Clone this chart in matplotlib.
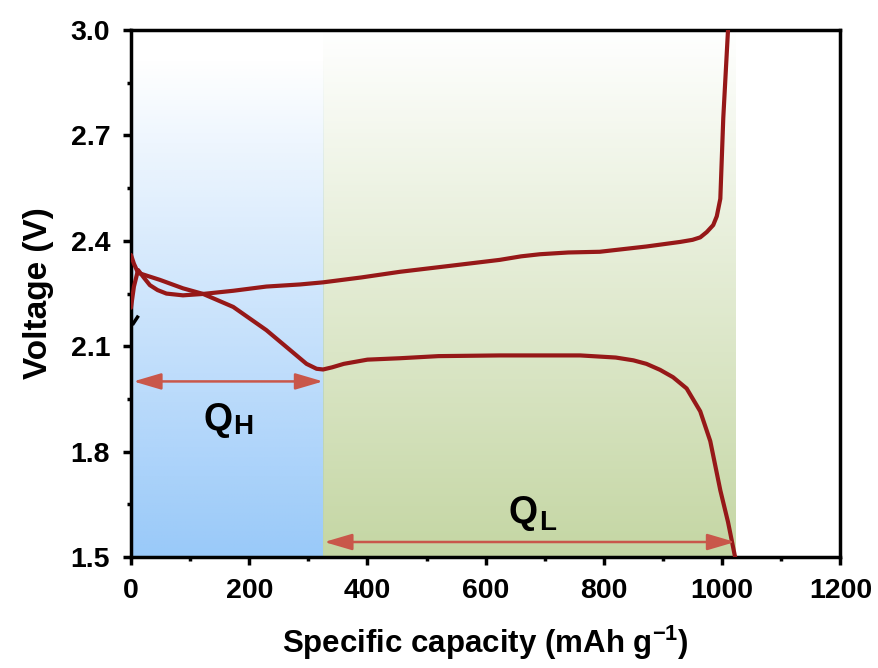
import matplotlib.pyplot as plt
import numpy as np
from matplotlib.ticker import MultipleLocator

plt.rcParams["font.family"] = ["Liberation Sans", "DejaVu Sans"]
plt.rcParams["font.weight"] = "bold"
plt.rcParams["mathtext.fontset"] = "custom"
plt.rcParams["mathtext.rm"] = "Liberation Sans:bold"
plt.rcParams["mathtext.bf"] = "Liberation Sans:bold"
plt.rcParams["mathtext.it"] = "Liberation Sans:bold"

# charge curve (mAh/g, V)
charge_cap = [0, 5, 12, 22, 32, 45, 60, 88, 122, 173, 229, 286, 325, 390,
              455, 540, 624, 660, 692, 740, 793, 872, 929, 950, 963, 974,
              985, 991, 997, 1002, 1010]
charge_v = [2.21, 2.27, 2.317, 2.295, 2.274, 2.26, 2.25, 2.245, 2.249, 2.258,
            2.27, 2.276, 2.282, 2.296, 2.312, 2.329, 2.346, 2.356, 2.362,
            2.367, 2.369, 2.384, 2.397, 2.403, 2.41, 2.425, 2.445, 2.47,
            2.52, 2.75, 3.0]

# discharge curve
discharge_cap = [0, 5, 12, 49, 88, 122, 173, 229, 263, 297, 314, 325, 340,
                 360, 400, 455, 520, 624, 760, 820, 850, 872, 895, 917, 940,
                 963, 980, 997, 1010, 1022]
discharge_v = [2.36, 2.335, 2.309, 2.289, 2.265, 2.249, 2.212, 2.146, 2.098,
               2.05, 2.036, 2.034, 2.04, 2.05, 2.062, 2.066, 2.072, 2.074,
               2.074, 2.068, 2.06, 2.05, 2.033, 2.012, 1.98, 1.915, 1.83,
               1.69, 1.6, 1.5]

# capacity boundaries of the two plateaus
q_h_span = (0, 325)
q_l_span = (325, 1022)

fig = plt.figure(figsize=(8.79, 6.68), dpi=100)
ax = fig.add_axes([0.149, 0.166, 0.807, 0.789])


def gradient_rect(ax, x0, x1, y0, y1, rgb):
    # opaque at the bottom, fading to white at the top
    alpha = np.linspace(1, 0, 256)
    img = np.zeros((256, 1, 4))
    img[:, 0, :3] = rgb
    img[:, 0, 3] = alpha
    ax.imshow(img, extent=[x0, x1, y0, y1], origin="lower", aspect="auto",
              zorder=0, interpolation="bilinear")


gradient_rect(ax, q_h_span[0], q_h_span[1], 1.5, 2.92, (0.60, 0.79, 0.98))
gradient_rect(ax, q_l_span[0], q_l_span[1], 1.5, 3.0, (0.77, 0.84, 0.64))

line_color = "#961818"
ax.plot(charge_cap, charge_v, color=line_color, lw=3, zorder=3,
        solid_capstyle="round", solid_joinstyle="round")
ax.plot(discharge_cap, discharge_v, color=line_color, lw=3, zorder=3,
        solid_capstyle="round", solid_joinstyle="round")

# small black mark near the origin
ax.plot([4, 11], [2.165, 2.183], color="black", lw=2.5, zorder=4)

arrow_color = "#c9574a"
arrow_props = dict(arrowstyle="<|-|>,head_length=1.7,head_width=0.5",
                   color=arrow_color, lw=1.8, mutation_scale=10,
                   shrinkA=0, shrinkB=0)
ax.annotate("", xy=(q_h_span[1], 2.0), xytext=(4, 2.0),
            arrowprops=arrow_props, zorder=5)
ax.annotate("", xy=(q_l_span[1], 1.543), xytext=(q_l_span[0] + 2, 1.543),
            arrowprops=arrow_props, zorder=5)

# Q labels with large subscripts
ax.text(123, 1.861, "Q", fontsize=27, fontweight="bold", va="baseline")
ax.text(172, 1.85, "H", fontsize=20, fontweight="bold", va="baseline")
ax.text(639, 1.597, "Q", fontsize=27, fontweight="bold", va="baseline")
ax.text(690, 1.578, "L", fontsize=20, fontweight="bold", va="baseline")

ax.set_xlim(0, 1200)
ax.set_ylim(1.5, 3.0)
ax.xaxis.set_major_locator(MultipleLocator(200))
ax.xaxis.set_minor_locator(MultipleLocator(100))
ax.yaxis.set_major_locator(MultipleLocator(0.3))
ax.yaxis.set_minor_locator(MultipleLocator(0.15))
ax.yaxis.set_major_formatter(plt.FormatStrFormatter("%.1f"))

for spine in ax.spines.values():
    spine.set_linewidth(2.5)
ax.tick_params(which="major", direction="out", length=6, width=2.5,
               labelsize=20.5, pad=9)
ax.tick_params(which="minor", direction="out", length=3, width=2.5)
for lab in ax.get_xticklabels() + ax.get_yticklabels():
    lab.set_fontweight("bold")

ax.set_xlabel(r"Specific capacity (mAh g$^{\mathbf{-1}}$)", fontsize=22.5,
              fontweight="bold", labelpad=14)
ax.set_ylabel("Voltage (V)", fontsize=24, fontweight="bold", labelpad=12)

fig.savefig("out.png", dpi=100)
